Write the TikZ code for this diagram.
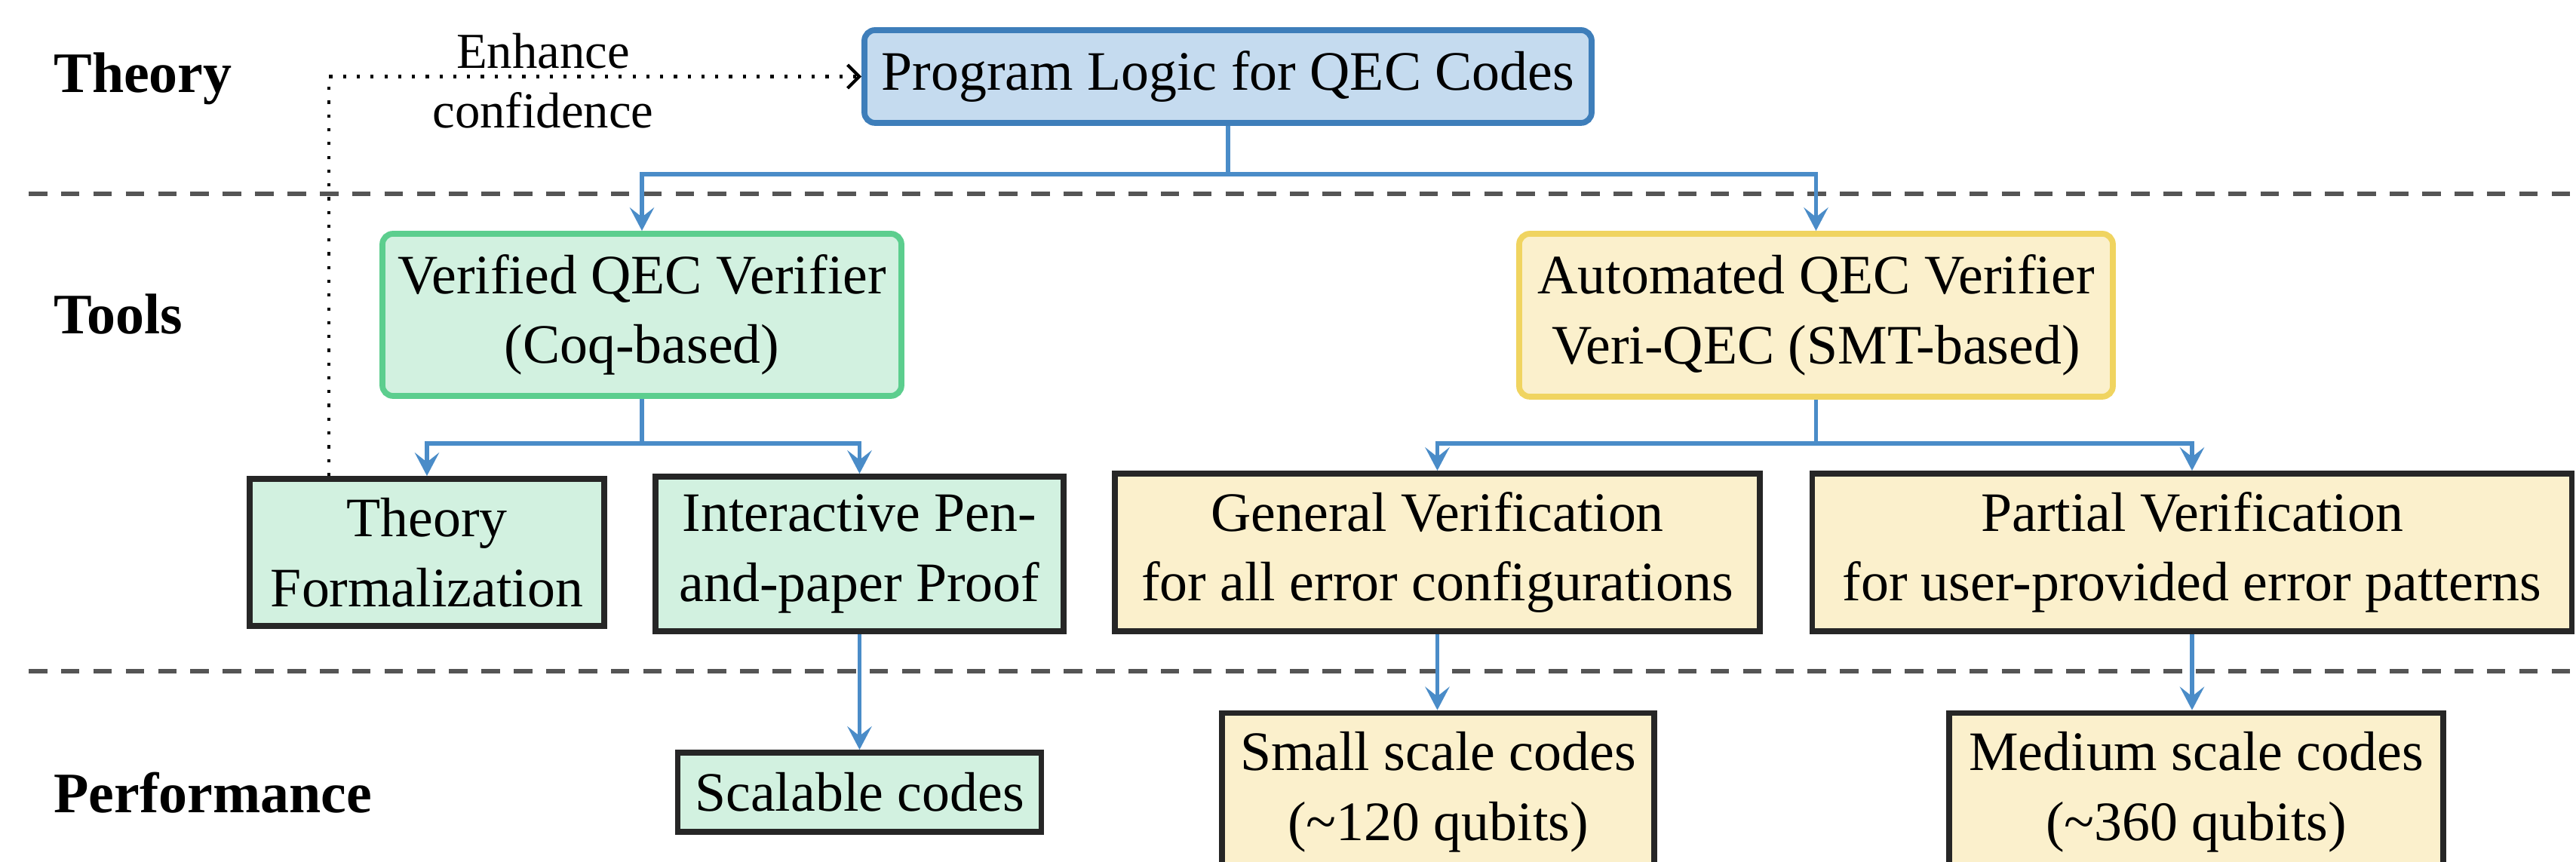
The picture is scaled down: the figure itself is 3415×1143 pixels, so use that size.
\documentclass[tikz,border=0pt]{standalone}
\usepackage{fontspec}
\setmainfont{Liberation Serif}
\usetikzlibrary{arrows.meta,calc}
\definecolor{sepline}{RGB}{85,85,85}
\definecolor{linkblue}{RGB}{74,140,200}
\definecolor{logicdraw}{RGB}{62,126,186}
\definecolor{logicfill}{RGB}{197,219,239}
\definecolor{coqdraw}{RGB}{92,206,142}
\definecolor{coqfill}{RGB}{210,241,224}
\definecolor{smtdraw}{RGB}{240,212,96}
\definecolor{smtfill}{RGB}{251,240,204}
\tikzset{rowlabel/.style={anchor=base west,inner sep=0pt,font=\fontsize{10.8}{13}\selectfont\bfseries},
         topbox/.style={rounded corners=2pt,line width=1.1pt,inner sep=0pt,align=center},
         leafbox/.style={draw=black!85,line width=1.1pt,inner sep=0pt,align=center},
         link/.style={draw=linkblue,line width=0.8pt,-{Stealth[length=4.4pt,width=4.6pt,inset=1.8pt]}},
         enhance/.style={draw=black,dotted,line width=0.6pt,-{Straight Barb[length=2.2pt,width=4.4pt]}},
         layer/.style={draw=sepline,line width=0.9pt,dash pattern=on 3.5pt off 2.6pt}}

\begin{document}
\begin{tikzpicture}[x=0.05mm,y=0.05mm,font=\fontsize{10.5}{13.2}\selectfont]
  \useasboundingbox (0,0) rectangle (3415,1143);
  \clip (0,0) rectangle (3415,1143);
  % layers
  \draw[layer] (38,886) -- (3415,886);
  \draw[layer] (38,253) -- (3415,253);
  \node[rowlabel] (lthe) at (70,1020) {Theory};
  \node[rowlabel] (ltoo) at (70,700) {Tools};
  \node[rowlabel] (lper) at (70,65) {Performance};
  % theory
  \node[topbox,draw=logicdraw,fill=logicfill,minimum width=48.2mm,minimum height=6.15mm] (logic) at (1628,1041.5) {Program Logic for QEC Codes};
  % tools
  \node[topbox,draw=coqdraw,fill=coqfill,minimum width=34.4mm,minimum height=10.75mm] (verified) at (851,725.5) {Verified QEC Verifier\\(Coq-based)};
  \node[topbox,draw=smtdraw,fill=smtfill,minimum width=39.35mm,minimum height=10.8mm] (automated) at (2407.5,725) {Automated QEC Verifier\\Veri-QEC (SMT-based)};
  \node[leafbox,fill=coqfill,minimum width=23.5mm,minimum height=9.75mm] (theoryf) at (566,410.5) {Theory\\Formalization};
  \node[leafbox,fill=coqfill,minimum width=27.05mm,minimum height=10.25mm] (interactive) at (1139.5,408.5) {Interactive Pen-\\and-paper Proof};
  \node[leafbox,fill=smtfill,minimum width=42.75mm,minimum height=10.45mm] (general) at (1905.5,410.5) {General Verification\\for all error configurations};
  \node[leafbox,fill=smtfill,minimum width=50.35mm,minimum height=10.45mm] (partial) at (2906,410.5) {Partial Verification\\for user-provided error patterns};
  % performance
  \node[leafbox,fill=coqfill,minimum width=24.1mm,minimum height=5.25mm] (scalable) at (1139.5,92.5) {Scalable codes};
  \node[leafbox,fill=smtfill,minimum width=28.65mm,minimum height=10.5mm] (small) at (1906.5,92.5) {Small scale codes\\(\textasciitilde120 qubits)};
  \node[leafbox,fill=smtfill,minimum width=32.75mm,minimum height=10.5mm] (medium) at (2911.5,92.5) {Medium scale codes\\(\textasciitilde360 qubits)};
  % connectors
  \draw[link] (logic.south) -- ++(0,-64) -| (verified.north);
  \draw[link] (logic.south) -- ++(0,-64) -| (automated.north);
  \draw[link] (verified.south) -- ++(0,-59) -| (theoryf.north);
  \draw[link] (verified.south) -- ++(0,-59) -| (interactive.north);
  \draw[link] (automated.south) -- ++(0,-58) -| (general.north);
  \draw[link] (automated.south) -- ++(0,-58) -| (partial.north);
  \draw[link] (interactive.south) -- (interactive.south |- scalable.north);
  \draw[link] (general.south) -- (general.south |- small.north);
  \draw[link] (partial.south) -- (partial.south |- medium.north);
  % feedback to the logic
  \coordinate (tfo) at ($(theoryf.north west)!0.228!(theoryf.north east)$);
  \draw[enhance] (tfo) |- (logic.west);
  \node[font=\fontsize{9.5}{11.2}\selectfont,align=center] (conf) at (720,1036) {Enhance\\confidence};
\end{tikzpicture}
\end{document}
